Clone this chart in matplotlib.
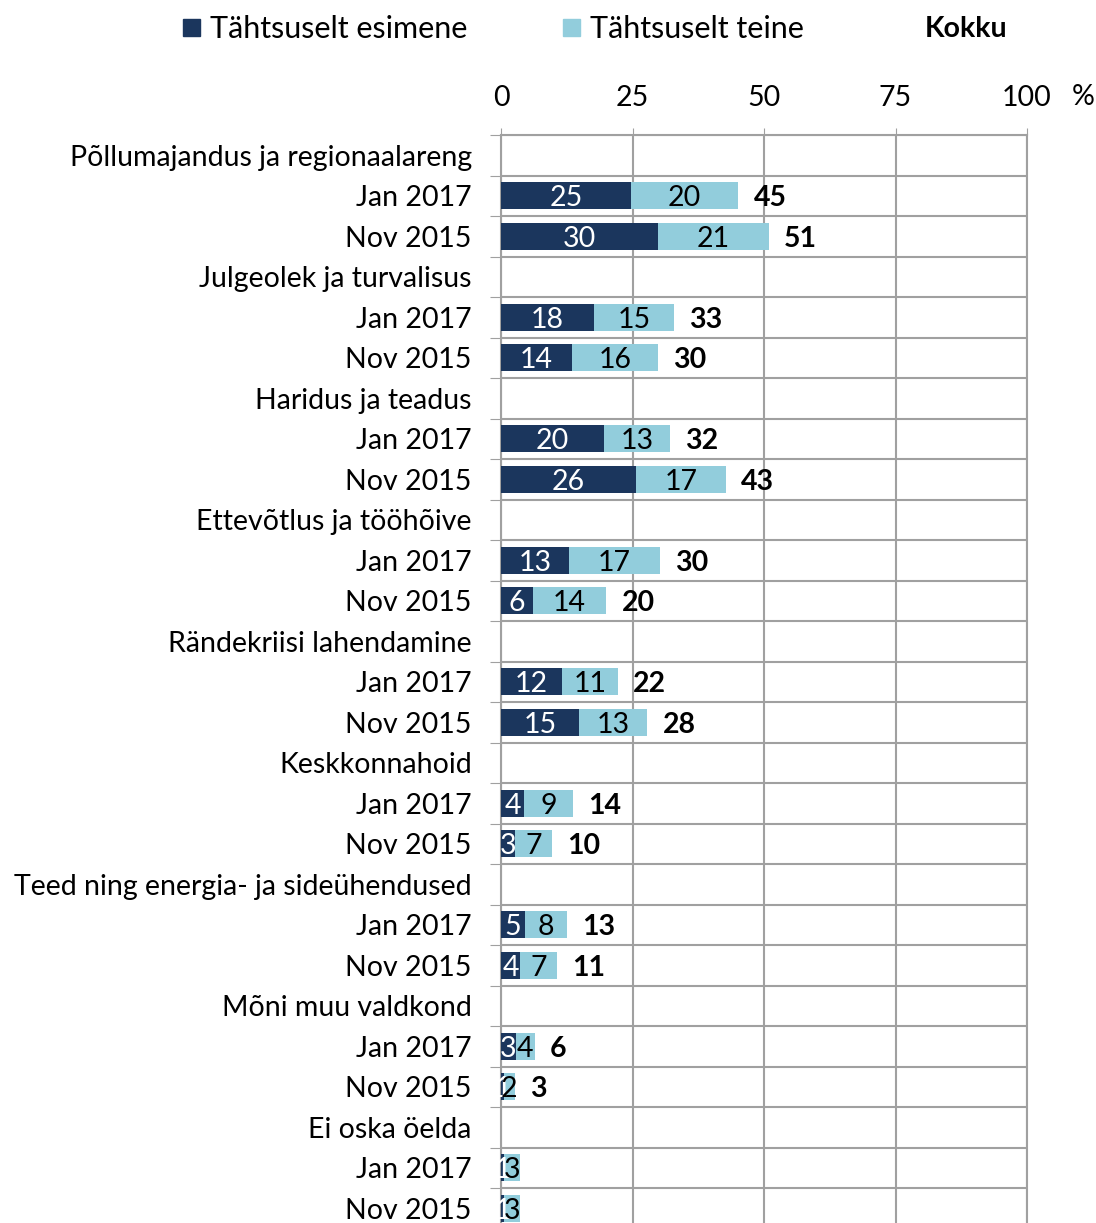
import numpy as np
import matplotlib.pyplot as plt
from matplotlib.patches import Rectangle

plt.rcParams['font.family'] = ['Lato', 'DejaVu Sans']

# data (percent)
categories = ['Põllumajandus ja regionaalareng', 'Julgeolek ja turvalisus', 'Haridus ja teadus',
              'Ettevõtlus ja tööhõive', 'Rändekriisi lahendamine', 'Keskkonnahoid',
              'Teed ning energia- ja sideühendused', 'Mõni muu valdkond', 'Ei oska öelda']
periods = ['Jan 2017', 'Nov 2015']
first = [[24.7, 29.8], [17.7, 13.5], [19.6, 25.7], [13.0, 6.1], [11.6, 14.8],
         [4.4, 2.6], [4.6, 3.7], [2.8, 0.6], [0.6, 0.6]]
second = [[20.4, 21.1], [15.2, 16.3], [12.5, 17.0], [17.2, 13.9], [10.6, 13.0],
          [9.3, 7.1], [8.0, 7.0], [3.6, 2.0], [3.0, 3.0]]
show_total = [True] * 8 + [False]
legend_names = ['Tähtsuselt esimene', 'Tähtsuselt teine', 'Kokku']
xticks = [0, 25, 50, 75, 100]

c_dark = '#1b365d'
c_light = '#92cddc'
c_grid = '#a0a0a0'
fs = 20.5

def r(v):
    return str(int(v + 0.5))

fig = plt.figure(figsize=(10.96, 12.23), dpi=100)
ax = fig.add_axes([501 / 1096, -0.0045, 526 / 1096, 0.8941])

nrows = len(categories) * 3
labels = []
centers = []
for i, cat in enumerate(categories):
    labels.append(cat)
    centers.append(3 * i + 0.5)
    for j, per in enumerate(periods):
        y = 3 * i + j + 1.5
        labels.append(per)
        centers.append(y)
        f = first[i][j]
        s = second[i][j]
        ax.barh(y, f, height=0.67, color=c_dark, zorder=3)
        ax.barh(y, s, left=f, height=0.67, color=c_light, zorder=3)
        ax.text(f / 2, y, r(f), color='white', ha='center', va='center_baseline',
                fontsize=fs, zorder=4)
        ax.text(f + s / 2, y, r(s), color='black', ha='center', va='center_baseline',
                fontsize=fs, zorder=4)
        if show_total[i]:
            ax.annotate(r(f + s), (f + s, y), xytext=(11, 0), textcoords='offset points',
                        ha='left', va='center_baseline', fontsize=fs, fontweight='bold')

ax.set_xlim(0, 100)
ax.set_ylim(nrows, 0)
ax.xaxis.tick_top()
ax.set_xticks(xticks)
ax.set_xticklabels([str(t) for t in xticks], fontsize=fs)
ax.tick_params(axis='x', length=5, color=c_grid, pad=12)
ax.set_yticks(np.arange(nrows + 1))
ax.set_yticklabels([])
ax.tick_params(axis='y', which='major', length=8, color=c_grid)
ax.set_yticks(centers, minor=True)
ax.set_yticklabels(labels, minor=True, fontsize=fs, va='center_baseline')
ax.tick_params(axis='y', which='minor', length=0, pad=21)
ax.grid(True, color=c_grid, linewidth=1.5, zorder=0)
for sp in ax.spines.values():
    sp.set_color(c_grid)
    sp.set_linewidth(1.5)
ax.spines['bottom'].set_visible(False)

fig.text(1083 / 1096, 1 - 97 / 1223, '%', fontsize=fs, ha='center', va='center')

# legend drawn by hand
fig.patches.append(Rectangle((183 / 1096, 1 - 36 / 1223), 17 / 1096, 17 / 1223,
                             transform=fig.transFigure, color=c_dark))
fig.text(210 / 1096, 1 - 29 / 1223, legend_names[0], fontsize=22, va='center')
fig.patches.append(Rectangle((563 / 1096, 1 - 36 / 1223), 17 / 1096, 17 / 1223,
                             transform=fig.transFigure, color=c_light))
fig.text(590 / 1096, 1 - 29 / 1223, legend_names[1], fontsize=22, va='center')
fig.text(925 / 1096, 1 - 29 / 1223, legend_names[2], fontsize=fs, va='center', fontweight='bold')

fig.savefig('out.png', dpi=100)
